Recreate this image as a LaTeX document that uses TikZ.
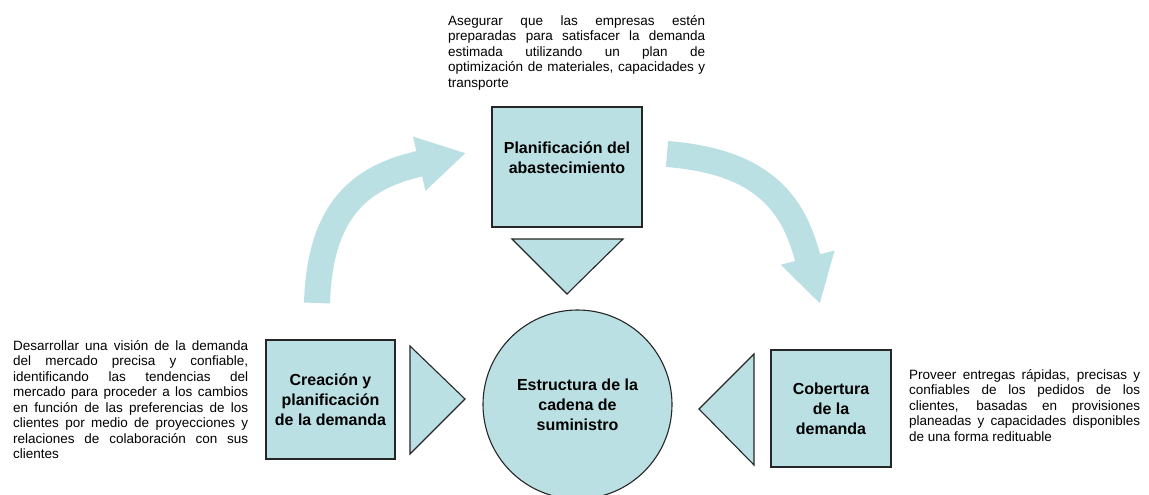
\documentclass[tikz,border=0pt]{standalone}
\usepackage{fontspec}
\setmainfont{Liberation Sans}
\usetikzlibrary{arrows.meta, positioning}
\definecolor{celeste}{RGB}{186,224,228}
\tikzstyle{caja} = [draw=black!85, line width=1.1pt, fill=celeste, rectangle, align=center,
  font=\fontsize{16}{20}\selectfont\bfseries, inner sep=2pt]
\tikzstyle{punta} = [draw=black!85, line width=1.1pt, fill=celeste, line join=miter]
\tikzstyle{nota} = [anchor=north west, inner sep=0pt, text width=#1, align=justify,
  font=\fontsize{13.5}{15.5}\selectfont]
\tikzstyle{flecha} = [draw=celeste, line width=26pt, -{Triangle[length=48pt, width=52pt]}]
\newcommand{\lb}{\linebreak}

\begin{document}
\begin{tikzpicture}[x=1pt, y=-1pt]
  \useasboundingbox (0,0) rectangle (1149,495);
  % cajas y centro
  \node [caja, minimum width=150pt, minimum height=120pt] (abast) at (567,167) {};
  \node [font=\fontsize{16}{20}\selectfont\bfseries, align=center] at ([yshift=9pt]abast.center)
    {Planificación del\\abastecimiento};
  \node [caja, minimum width=129pt, minimum height=119pt] (creacion) at (330.5,399.5)
    {Creación y\\planificación\\de la demanda};
  \node [caja, minimum width=120pt, minimum height=117pt] (cobertura) at (831,408.5)
    {Cobertura\\de la\\demanda};
  \node [caja, circle, minimum size=189pt] (cadena) at (577.5,404.5)
    {Estructura de la\\cadena de\\suministro};
  % triangulos
  \draw [punta] (512,239) -- (623,239) -- (567,294) -- cycle;
  \draw [punta] (410,346) -- (465,399) -- (410,454) -- cycle;
  \draw [punta] (754,354) -- (699,409) -- (754,465) -- cycle;
  % flechas curvas
  \draw [flecha] (317,303) .. controls (320,200) and (370,175) .. (466,153);
  \draw [flecha] (667,154) .. controls (770,162) and (795,210) .. (820,304);
  % textos
  \node [nota=257pt] (txtabast) at (448,15) {Asegurar que las empresas estén\lb
    preparadas para satisfacer la demanda\lb estimada utilizando un plan de\lb
    optimización de materiales, capacidades y\lb transporte};
  \node [nota=235pt] (txtcreacion) at (13,340) {Desarrollar una visión de la demanda\lb
    del mercado precisa y confiable,\lb identificando las tendencias del\lb
    mercado para proceder a los cambios\lb en función de las preferencias de los\lb
    clientes por medio de proyecciones y\lb relaciones de colaboración con sus\lb clientes};
  \node [nota=231pt] (txtcobertura) at (909,369) {Proveer entregas rápidas, precisas y\lb
    confiables de los pedidos de los\lb clientes, basadas en provisiones\lb
    planeadas y capacidades disponibles\lb de una forma redituable};
\end{tikzpicture}
\end{document}
